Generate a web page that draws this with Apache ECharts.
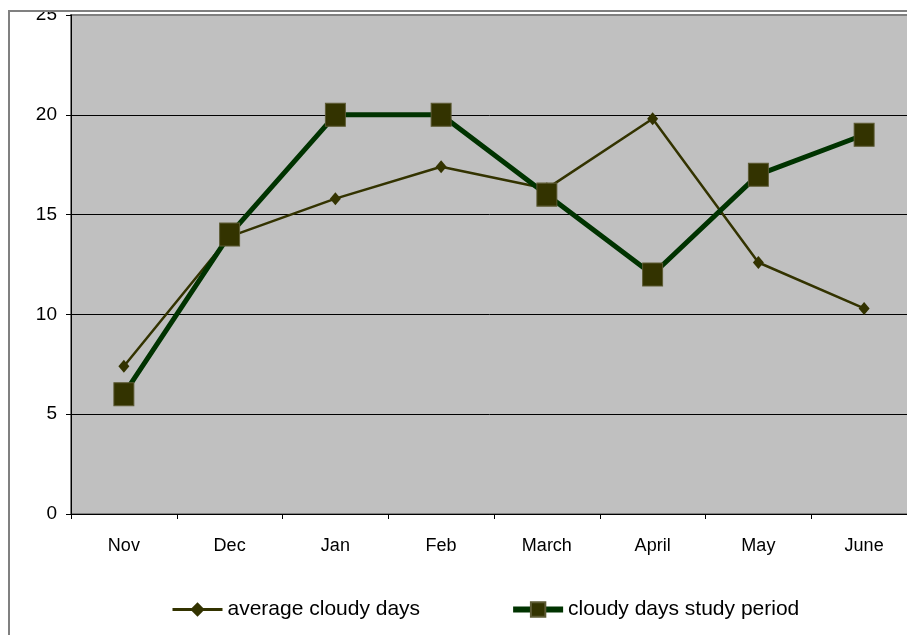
<!DOCTYPE html>
<html>
<head>
<meta charset="utf-8">
<script src="https://cdn.jsdelivr.net/npm/echarts@6/dist/echarts.min.js"></script>
<style>
  html, body { margin: 0; padding: 0; background: #fff; }
  #chart { width: 907px; height: 635px; }
</style>
</head>
<body>
<div id="chart"></div>
<script>
var months = ['Nov', 'Dec', 'Jan', 'Feb', 'March', 'April', 'May', 'June'];
var averageDays = [7.4, 13.9, 15.8, 17.4, 16.3, 19.8, 12.6, 10.3];
var studyDays = [6, 14, 20, 20, 16, 12, 17, 19];
var yTicks = { min: 0, max: 25, step: 5 };

var font = '"Liberation Sans", Arial, sans-serif';

var chart = echarts.init(document.getElementById('chart'));
var option = {
    animation: false,
    backgroundColor: '#fff',
    grid: {
        left: 71,
        top: 15,
        height: 499,
        width: 846,   // runs past the right edge of the picture, like the original
        outerBoundsMode: 'none',
        show: true,
        backgroundColor: '#c0c0c0',
        borderColor: '#808080',
        borderWidth: 2
    },
    legend: {
        left: 166,
        top: 594,
        itemWidth: 50,
        itemHeight: 18,
        itemGap: 90,
        textStyle: { fontFamily: font, fontSize: 21, color: '#000' },
        data: [
            { name: 'average cloudy days', lineStyle: { width: 3 } },
            { name: 'cloudy days study period', lineStyle: { width: 6 } }
        ]
    },
    xAxis: {
        type: 'category',
        data: months,
        boundaryGap: true,
        axisLine: { lineStyle: { color: '#000', width: 1 } },
        axisTick: { show: true, interval: 0, length: 5, lineStyle: { color: '#000' } },
        axisLabel: { fontFamily: font, fontSize: 18, color: '#000', margin: 23, interval: 0 }
    },
    yAxis: {
        type: 'value',
        min: yTicks.min,
        max: yTicks.max,
        interval: yTicks.step,
        axisLine: { show: true, lineStyle: { color: '#000', width: 1 } },
        axisTick: { show: true, length: 5, lineStyle: { color: '#000' } },
        axisLabel: { fontFamily: font, fontSize: 19, color: '#000', margin: 14 },
        splitLine: {
            show: true,
            lineStyle: { color: ['#000', '#000', '#000', '#000', '#000', '#808080'], width: 1 }
        }
    },
    graphic: [
        // page clip above the chart frame (the "25" label is cut off there)
        { type: 'rect', z: 100, shape: { x: 0, y: 0, width: 907, height: 10 }, style: { fill: '#fff' } },
        { type: 'rect', z: 101, shape: { x: 9, y: 11, width: 1000, height: 700 },
          style: { fill: 'none', stroke: '#808080', lineWidth: 2 } }
    ],
    series: [
        {
            name: 'average cloudy days',
            type: 'line',
            data: averageDays,
            symbol: 'diamond',
            symbolSize: [11, 13],
            lineStyle: { color: '#333300', width: 2.5 },
            itemStyle: { color: '#333300' },
            z: 3
        },
        {
            name: 'cloudy days study period',
            type: 'line',
            data: studyDays,
            symbol: 'rect',
            symbolSize: [20, 23],
            lineStyle: { color: '#003300', width: 5 },
            itemStyle: { color: '#333300', borderColor: '#5c5a33', borderWidth: 1 },
            z: 4
        }
    ]
};
chart.setOption(option);
</script>
</body>
</html>
